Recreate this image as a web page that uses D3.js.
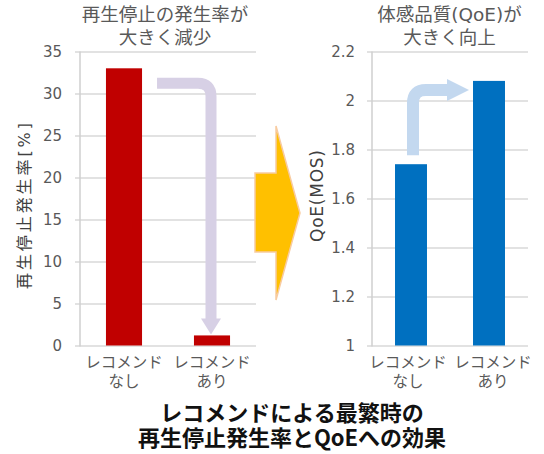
<!DOCTYPE html>
<html lang="ja">
<head>
<meta charset="utf-8">
<script src="https://cdn.jsdelivr.net/npm/d3@7"></script>
<style>
  html, body { margin: 0; padding: 0; background: #fff; }
  svg { display: block; font-family: "DejaVu Sans", "Noto Sans CJK JP", sans-serif; }
</style>
</head>
<body>
<svg id="chart" width="544" height="454"></svg>
<script>
// Categories (two-line labels)
const categories = ["レコメンドなし", "レコメンドあり"];
const categoryLines = [["レコメンド", "なし"], ["レコメンド", "あり"]];

// Stall rate [%]
const stallRate = [33, 1.2];
const stallTicks = [0, 5, 10, 15, 20, 25, 30, 35];

// QoE (MOS)
const qoeMos = [1.74, 2.08];
const qoeTicks = [1, 1.2, 1.4, 1.6, 1.8, 2, 2.2];
const qoeTickLabels = ["1", "1.2", "1.4", "1.6", "1.8", "2", "2.2"];

const svg = d3.select("#chart");
const textColor = "#595959";
const gridColor = "#d9d9d9";

function drawPanel(cfg) {
  const x = d3.scaleBand().domain(categories).range(cfg.xRange)
    .paddingInner(0.59).paddingOuter(0.295);
  const y = d3.scaleLinear().domain(cfg.yDomain).range([345.5, 51.5]);
  const w = cfg.xRange[1] - cfg.xRange[0];

  const g = svg.append("g");
  const axis = d3.axisLeft(y).tickValues(cfg.ticks)
    .tickFormat((d, i) => cfg.tickLabels[i])
    .tickSize(-w).tickPadding(cfg.pad);
  const ag = g.append("g").attr("transform", `translate(${cfg.xRange[0]},0)`).call(axis);
  ag.select(".domain").remove();
  ag.selectAll(".tick line").attr("x1", -5).attr("x2", w)
    .attr("stroke", gridColor).attr("stroke-width", 1.5);
  ag.selectAll(".tick text").attr("fill", textColor)
    .style("font-family", "'DejaVu Sans', sans-serif").style("font-size", "15px");

  // vertical axis line
  g.append("line").attr("x1", cfg.xRange[0]).attr("x2", cfg.xRange[0])
    .attr("y1", y.range()[1]).attr("y2", y.range()[0] + 1)
    .attr("stroke", "#cfcfcf").attr("stroke-width", 1.5);

  // bars
  g.selectAll("rect.bar").data(cfg.values).join("rect")
    .attr("class", "bar")
    .attr("x", (d, i) => x(categories[i]))
    .attr("width", x.bandwidth())
    .attr("y", d => y(d))
    .attr("height", d => y(cfg.yDomain[0]) - y(d))
    .attr("fill", cfg.color);

  // category labels
  categoryLines.forEach((lines, i) => {
    const cx = x(categories[i]) + x.bandwidth() / 2 + cfg.labelShift[i];
    const t = g.append("text").attr("x", cx)
      .attr("text-anchor", "middle").attr("fill", textColor)
      .style("font-family", "'Noto Sans CJK JP', sans-serif").style("font-size", "15.5px");
    lines.forEach((s, k) => t.append("tspan")
      .attr("x", cx).attr("y", 368 + k * 19).text(s));
  });

  // panel heading
  const h = g.append("text").attr("text-anchor", "middle").attr("fill", textColor)
    .style("font-size", "18.5px");
  cfg.heading.forEach((s, k) => h.append("tspan")
    .attr("x", cfg.headingX).attr("y", 21 + k * 23).text(s));

  // y-axis title
  g.append("text")
    .attr("transform", `translate(${cfg.titleX},${cfg.titleY}) rotate(-90)`)
    .attr("text-anchor", "middle").attr("dy", "0.35em")
    .attr("fill", "#404040").style("font-size", cfg.titleSize)
    .attr("textLength", cfg.titleLen).attr("lengthAdjust", "spacing")
    .text(cfg.title);

  return { x, y };
}

const left = drawPanel({
  xRange: [80, 256], yDomain: [0, 35], ticks: stallTicks,
  tickLabels: stallTicks.map(String), pad: 18, values: stallRate,
  color: "#c00000", heading: ["再生停止の発生率が", "大きく減少"], headingX: 165,
  title: "再生停止発生率[%]", titleX: 24, titleY: 206, titleSize: "16px", titleLen: 166,
  labelShift: [0, 0]
});

const right = drawPanel({
  xRange: [372, 528], yDomain: [1, 2.2], ticks: qoeTicks,
  tickLabels: qoeTickLabels, pad: 17, values: qoeMos,
  color: "#0070c0", heading: ["体感品質(QoE)が", "大きく向上"], headingX: 449.5,
  title: "QoE(MOS)", titleX: 317, titleY: 196, titleSize: "17px", titleLen: 92,
  labelShift: [-3, 4]
});

// downward arrow: from the "なし" bar to the "あり" bar
{
  const { x, y } = left;
  const x0 = x(categories[0]) + x.bandwidth() + 15;
  const yTop = y(stallRate[0]) + 15;
  const xc = x(categories[1]) + x.bandwidth() / 2 - 1;
  const tipY = y(stallRate[1]) - 1;
  const r = 13, head = 16;
  const col = "#d7d0e5";
  svg.append("path")
    .attr("d", `M${x0},${yTop} H${xc - r} Q${xc},${yTop} ${xc},${yTop + r} V${tipY - head + 1}`)
    .attr("fill", "none").attr("stroke", col).attr("stroke-width", 11);
  svg.append("path")
    .attr("d", `M${xc - 10},${tipY - head} L${xc + 10},${tipY - head} L${xc},${tipY} Z`)
    .attr("fill", col);
}

// upward arrow: from the "なし" bar to the "あり" bar
{
  const { x, y } = right;
  const xc = x(categories[0]) + x.bandwidth() / 2 + 2;
  const yBot = y(qoeMos[0]) - 9;
  const yTop = y(qoeMos[1]) + 9;
  const tipX = x(categories[1]) - 4;
  const r = 13, head = 22;
  const col = "#c3d8ef";
  svg.append("path")
    .attr("d", `M${xc},${yBot} V${yTop + r} Q${xc},${yTop} ${xc + r},${yTop} H${tipX - head + 1}`)
    .attr("fill", "none").attr("stroke", col).attr("stroke-width", 12);
  svg.append("path")
    .attr("d", `M${tipX - head},${yTop - 11} L${tipX - head},${yTop + 11} L${tipX},${yTop} Z`)
    .attr("fill", col);
}

// large block arrow between the panels
svg.append("path")
  .attr("d", "M255,173 H276 V126 L300,213 L276,300 V252 H255 Z")
  .attr("fill", "#ffc000").attr("stroke", "#f8cba0").attr("stroke-width", 1.5)
  .attr("stroke-linejoin", "miter");

// caption
const cap = svg.append("text").attr("text-anchor", "middle").attr("fill", "#111")
  .style("font-family", "'Noto Sans CJK JP', sans-serif")
  .style("font-size", "22px").style("font-weight", "bold");
["レコメンドによる最繁時の", "再生停止発生率とQoEへの効果"].forEach((s, k) =>
  cap.append("tspan").attr("x", 292).attr("y", 421 + k * 25).text(s));
</script>
</body>
</html>
